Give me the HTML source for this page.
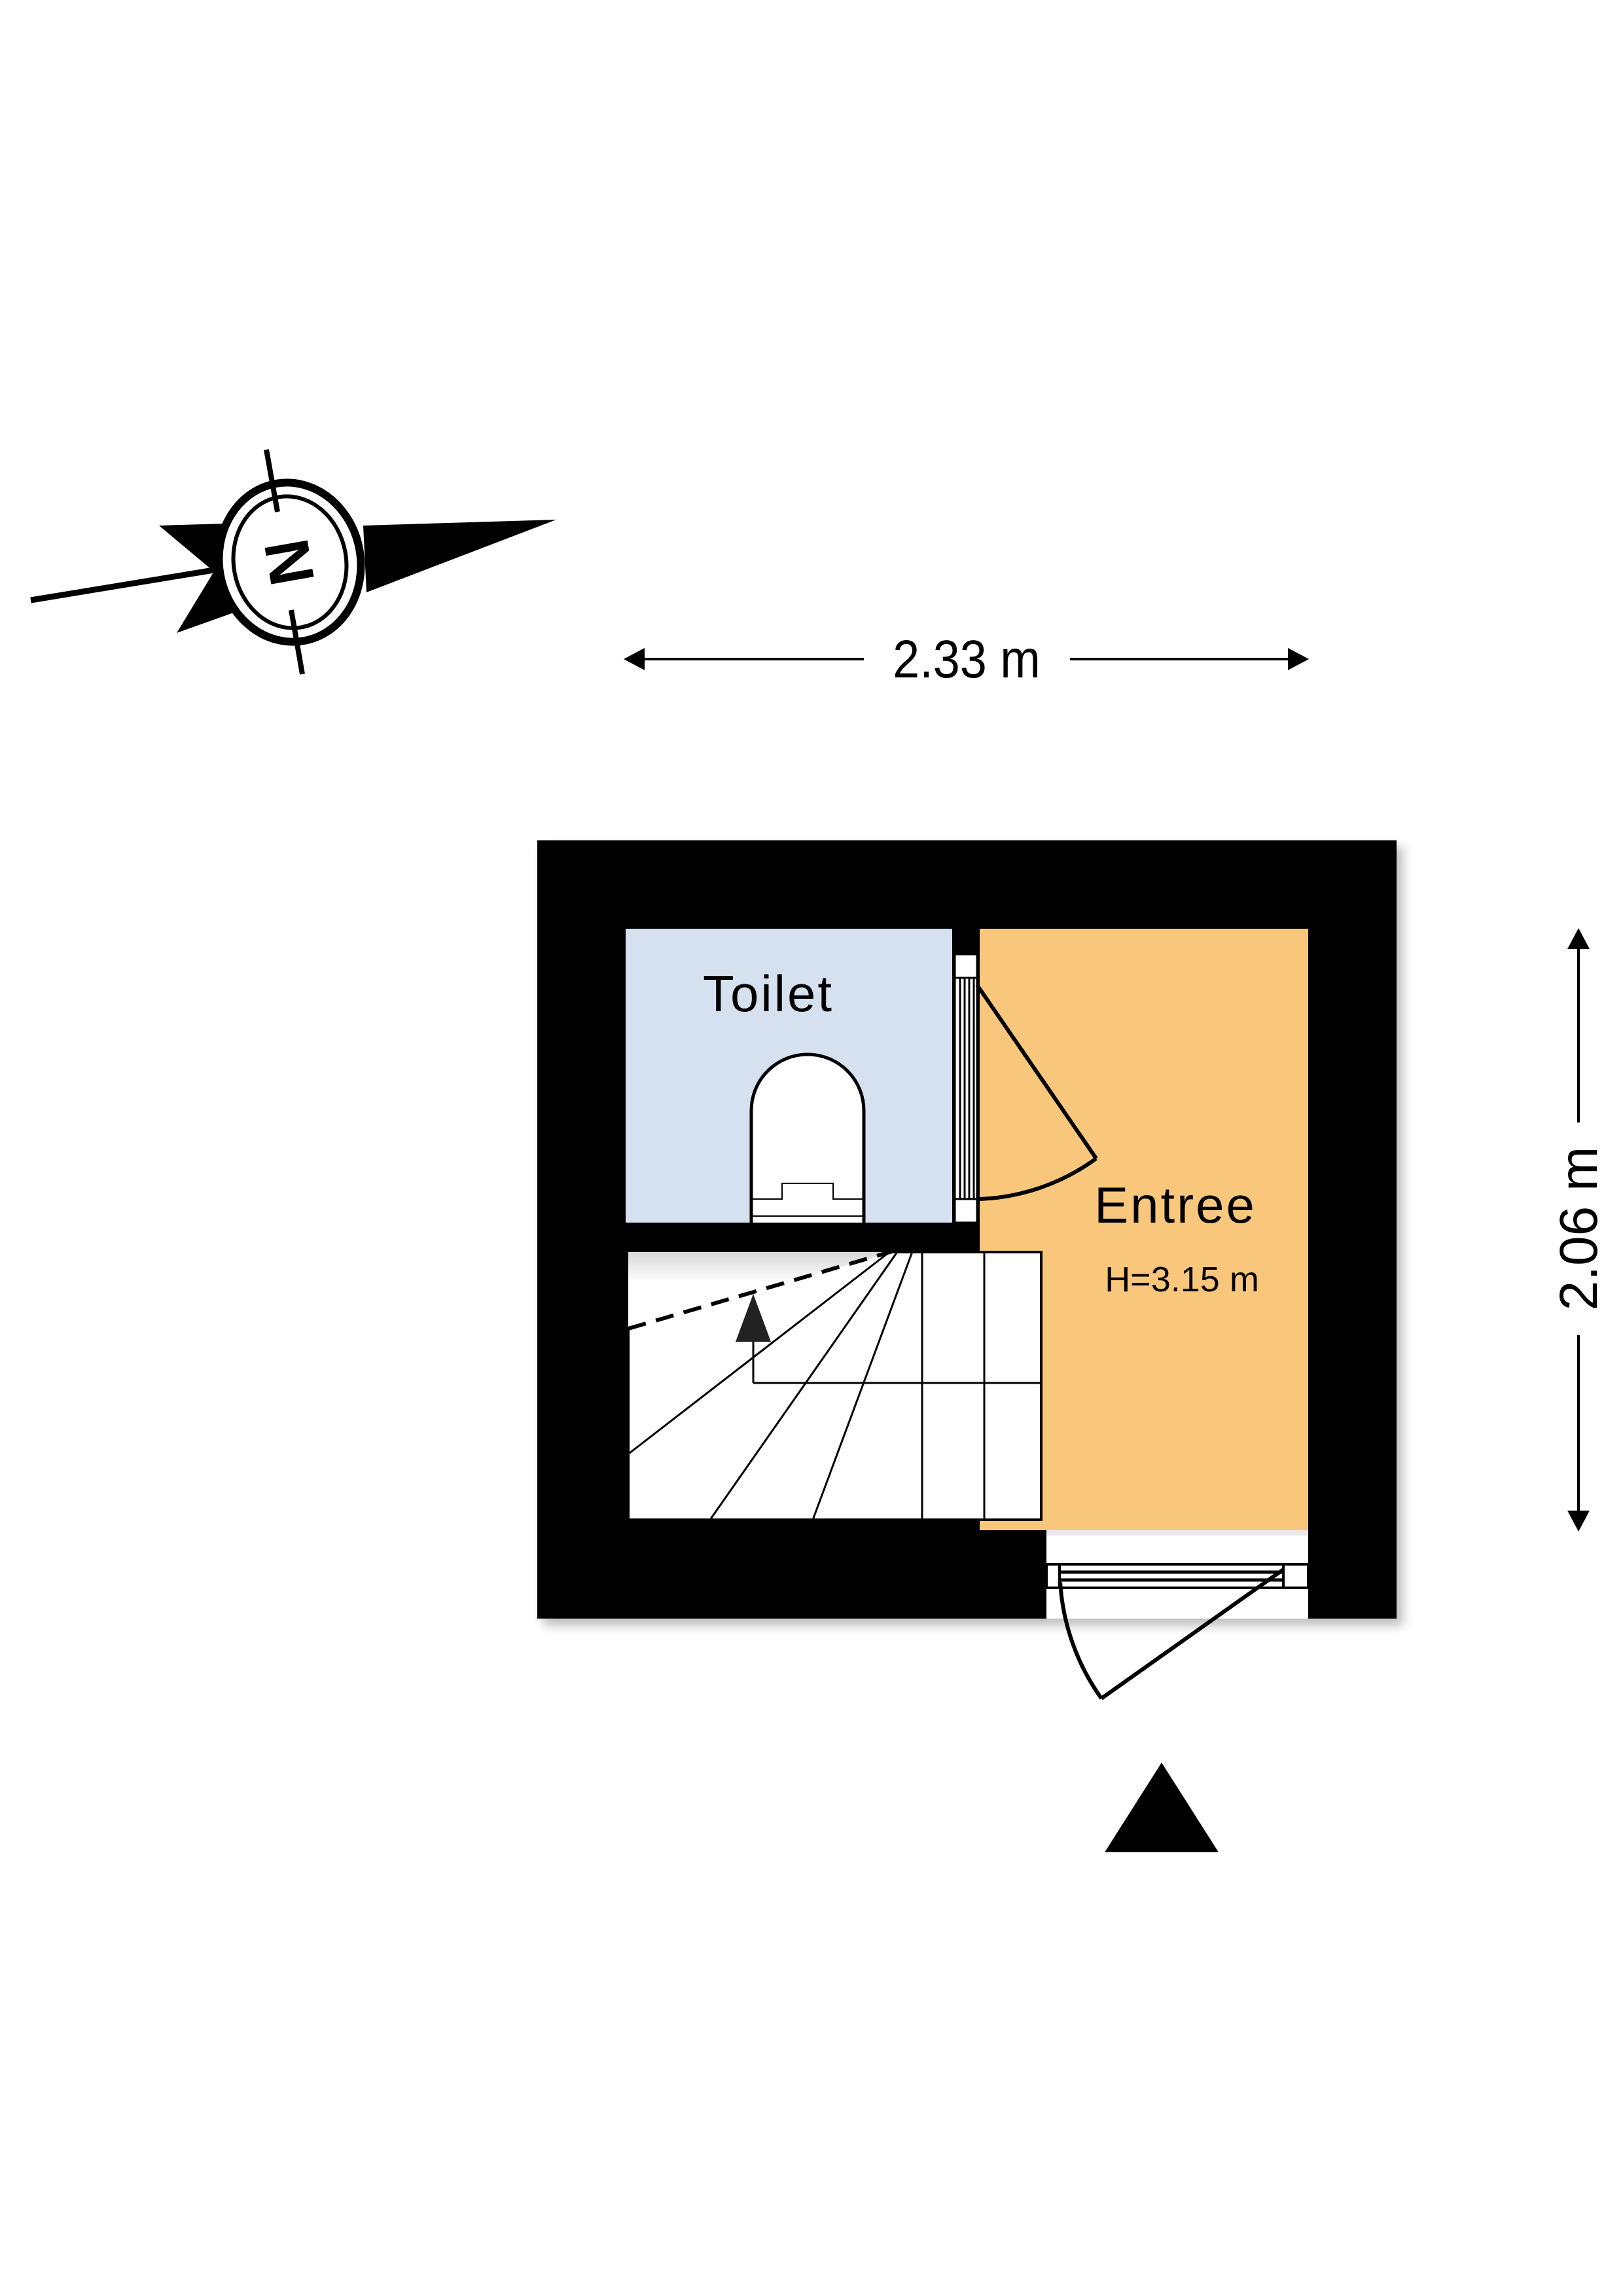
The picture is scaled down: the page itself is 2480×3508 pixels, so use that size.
<!DOCTYPE html>
<html><head><meta charset="utf-8"><style>
html,body{margin:0;padding:0;background:#fff}
svg{display:block}
text{font-family:"Liberation Sans",sans-serif}
</style></head><body>
<svg width="2480" height="3508" viewBox="0 0 2480 3508" xmlns="http://www.w3.org/2000/svg">
<defs>
<filter id="sh" x="-5%" y="-5%" width="110%" height="110%"><feGaussianBlur stdDeviation="8"/></filter>
<linearGradient id="gr" x1="0" y1="0" x2="0" y2="1"><stop offset="0" stop-color="#d8d8d8"/><stop offset="0.4" stop-color="#fff"/></linearGradient>
</defs>
<rect width="2480" height="3508" fill="#fff"/>

<!-- compass -->
<polygon points="555,803 850,794 560,905" fill="#000"/>
<polygon points="243,803 345,800 335,880" fill="#000"/>
<polygon points="270,967 335,860 360,935" fill="#000"/>
<line x1="47" y1="917" x2="345" y2="868" stroke="#000" stroke-width="9"/>
<ellipse cx="443" cy="859" rx="108" ry="122" transform="rotate(-10 443 859)" fill="#fff" stroke="#000" stroke-width="12"/>
<ellipse cx="443" cy="859" rx="86" ry="101" transform="rotate(-10 443 859)" fill="none" stroke="#000" stroke-width="6"/>
<line x1="407" y1="687" x2="424" y2="782" stroke="#000" stroke-width="8"/>
<line x1="445" y1="932" x2="462" y2="1030" stroke="#000" stroke-width="8"/>
<text x="443" y="893" font-size="96" font-weight="bold" text-anchor="middle" transform="rotate(80 443 859)">N</text>

<!-- top dimension -->
<line x1="975" y1="1007" x2="1320" y2="1007" stroke="#000" stroke-width="4"/>
<line x1="1635" y1="1007" x2="1975" y2="1007" stroke="#000" stroke-width="4"/>
<polygon points="953,1007 985,990 985,1024" fill="#000"/>
<polygon points="2000,1007 1968,990 1968,1024" fill="#000"/>
<text x="1477" y="1035" font-size="82" text-anchor="middle" transform="translate(1477 0) scale(0.9 1) translate(-1477 0)">2.33 m</text>

<!-- right dimension -->
<line x1="2412" y1="1440" x2="2412" y2="1715" stroke="#000" stroke-width="4"/>
<line x1="2412" y1="2040" x2="2412" y2="2318" stroke="#000" stroke-width="4"/>
<polygon points="2412,1418 2395,1450 2429,1450" fill="#000"/>
<polygon points="2412,2340 2395,2308 2429,2308" fill="#000"/>
<text x="2440" y="1877" font-size="82" text-anchor="middle" transform="rotate(-90 2440 1877)">2.06 m</text>

<!-- shadow + outer walls -->
<rect x="830" y="1294" width="1314" height="1190" fill="#000" opacity="0.25" filter="url(#sh)"/>
<rect x="821" y="1284" width="1313" height="1189" fill="#000"/>

<rect x="956" y="1419" width="499" height="449" fill="#d5e1ef"/>
<rect x="1497" y="1419" width="502" height="919" fill="#f9c77c"/>
<rect x="1599" y="2338" width="400" height="135" fill="#fff"/>
<rect x="1599" y="2338" width="400" height="8" fill="#e9e9e9"/>
<rect x="960" y="1913" width="631" height="409" fill="#fff" stroke="#000" stroke-width="4"/>
<polygon points="960,1913 1363,1913 960,2030" fill="url(#gr)"/>

<g stroke="#000" stroke-width="3" fill="none">
<line x1="1409" y1="1913" x2="1409" y2="2322"/>
<line x1="1504" y1="1913" x2="1504" y2="2322"/>
<line x1="1151" y1="2113" x2="1591" y2="2113"/>
<line x1="1151" y1="2050" x2="1151" y2="2113"/>
<line x1="1363" y1="1910" x2="962" y2="2220"/>
<line x1="1373" y1="1910" x2="1085" y2="2322"/>
<line x1="1395" y1="1910" x2="1242" y2="2322"/>
</g>
<line x1="960" y1="2030" x2="1370" y2="1910" stroke="#000" stroke-width="6" stroke-dasharray="28,16"/>
<polygon points="1151,1977 1124,2050 1178,2050" fill="#222"/>

<rect x="1459" y="1458" width="34" height="410" fill="#fff" stroke="#000" stroke-width="3"/>
<rect x="1459" y="1458" width="34" height="36" fill="#fff" stroke="#000" stroke-width="3"/>
<rect x="1459" y="1832" width="34" height="36" fill="#fff" stroke="#000" stroke-width="3"/>
<g stroke="#000" stroke-width="3">
<line x1="1467" y1="1494" x2="1467" y2="1832"/>
<line x1="1474" y1="1494" x2="1474" y2="1832"/>
<line x1="1481" y1="1494" x2="1481" y2="1832"/>
<line x1="1488" y1="1494" x2="1488" y2="1832"/>
</g>
<g stroke="#000" stroke-width="6" fill="none">
<line x1="1493" y1="1505" x2="1675" y2="1770"/>
<path d="M1675,1770 A322,322 0 0 1 1497,1832"/>
</g>

<path d="M1148,1868 L1148,1697 A86,86 0 0 1 1320,1697 L1320,1868" fill="#fff" stroke="#000" stroke-width="5"/>
<g stroke="#000" stroke-width="2" fill="none">
<path d="M1150,1832 L1195,1832 L1195,1808 L1273,1808 L1273,1832 L1318,1832"/>
<line x1="1150" y1="1858" x2="1318" y2="1858"/>
</g>

<rect x="1599" y="2390" width="400" height="36" fill="#fff" stroke="#000" stroke-width="4"/>
<rect x="1619" y="2390" width="342" height="36" fill="#fff" stroke="#000" stroke-width="4"/>
<g stroke="#000" stroke-width="5">
<line x1="1621" y1="2402" x2="1961" y2="2402"/>
<line x1="1621" y1="2414" x2="1961" y2="2414"/>
</g>
<g stroke="#000" stroke-width="6" fill="none">
<line x1="1961" y1="2398" x2="1683" y2="2595"/>
<path d="M1620,2417 A341,341 0 0 0 1683,2595"/>
</g>

<polygon points="1775,2693 1688,2830 1862,2830" fill="#000"/>

<text x="1174" y="1545" font-size="78" text-anchor="middle" letter-spacing="3">Toilet</text>
<text x="1796" y="1868" font-size="78" text-anchor="middle" letter-spacing="3">Entree</text>
<text x="1806" y="1973" font-size="54" text-anchor="middle">H=3.15 m</text>
</svg>
</body></html>
